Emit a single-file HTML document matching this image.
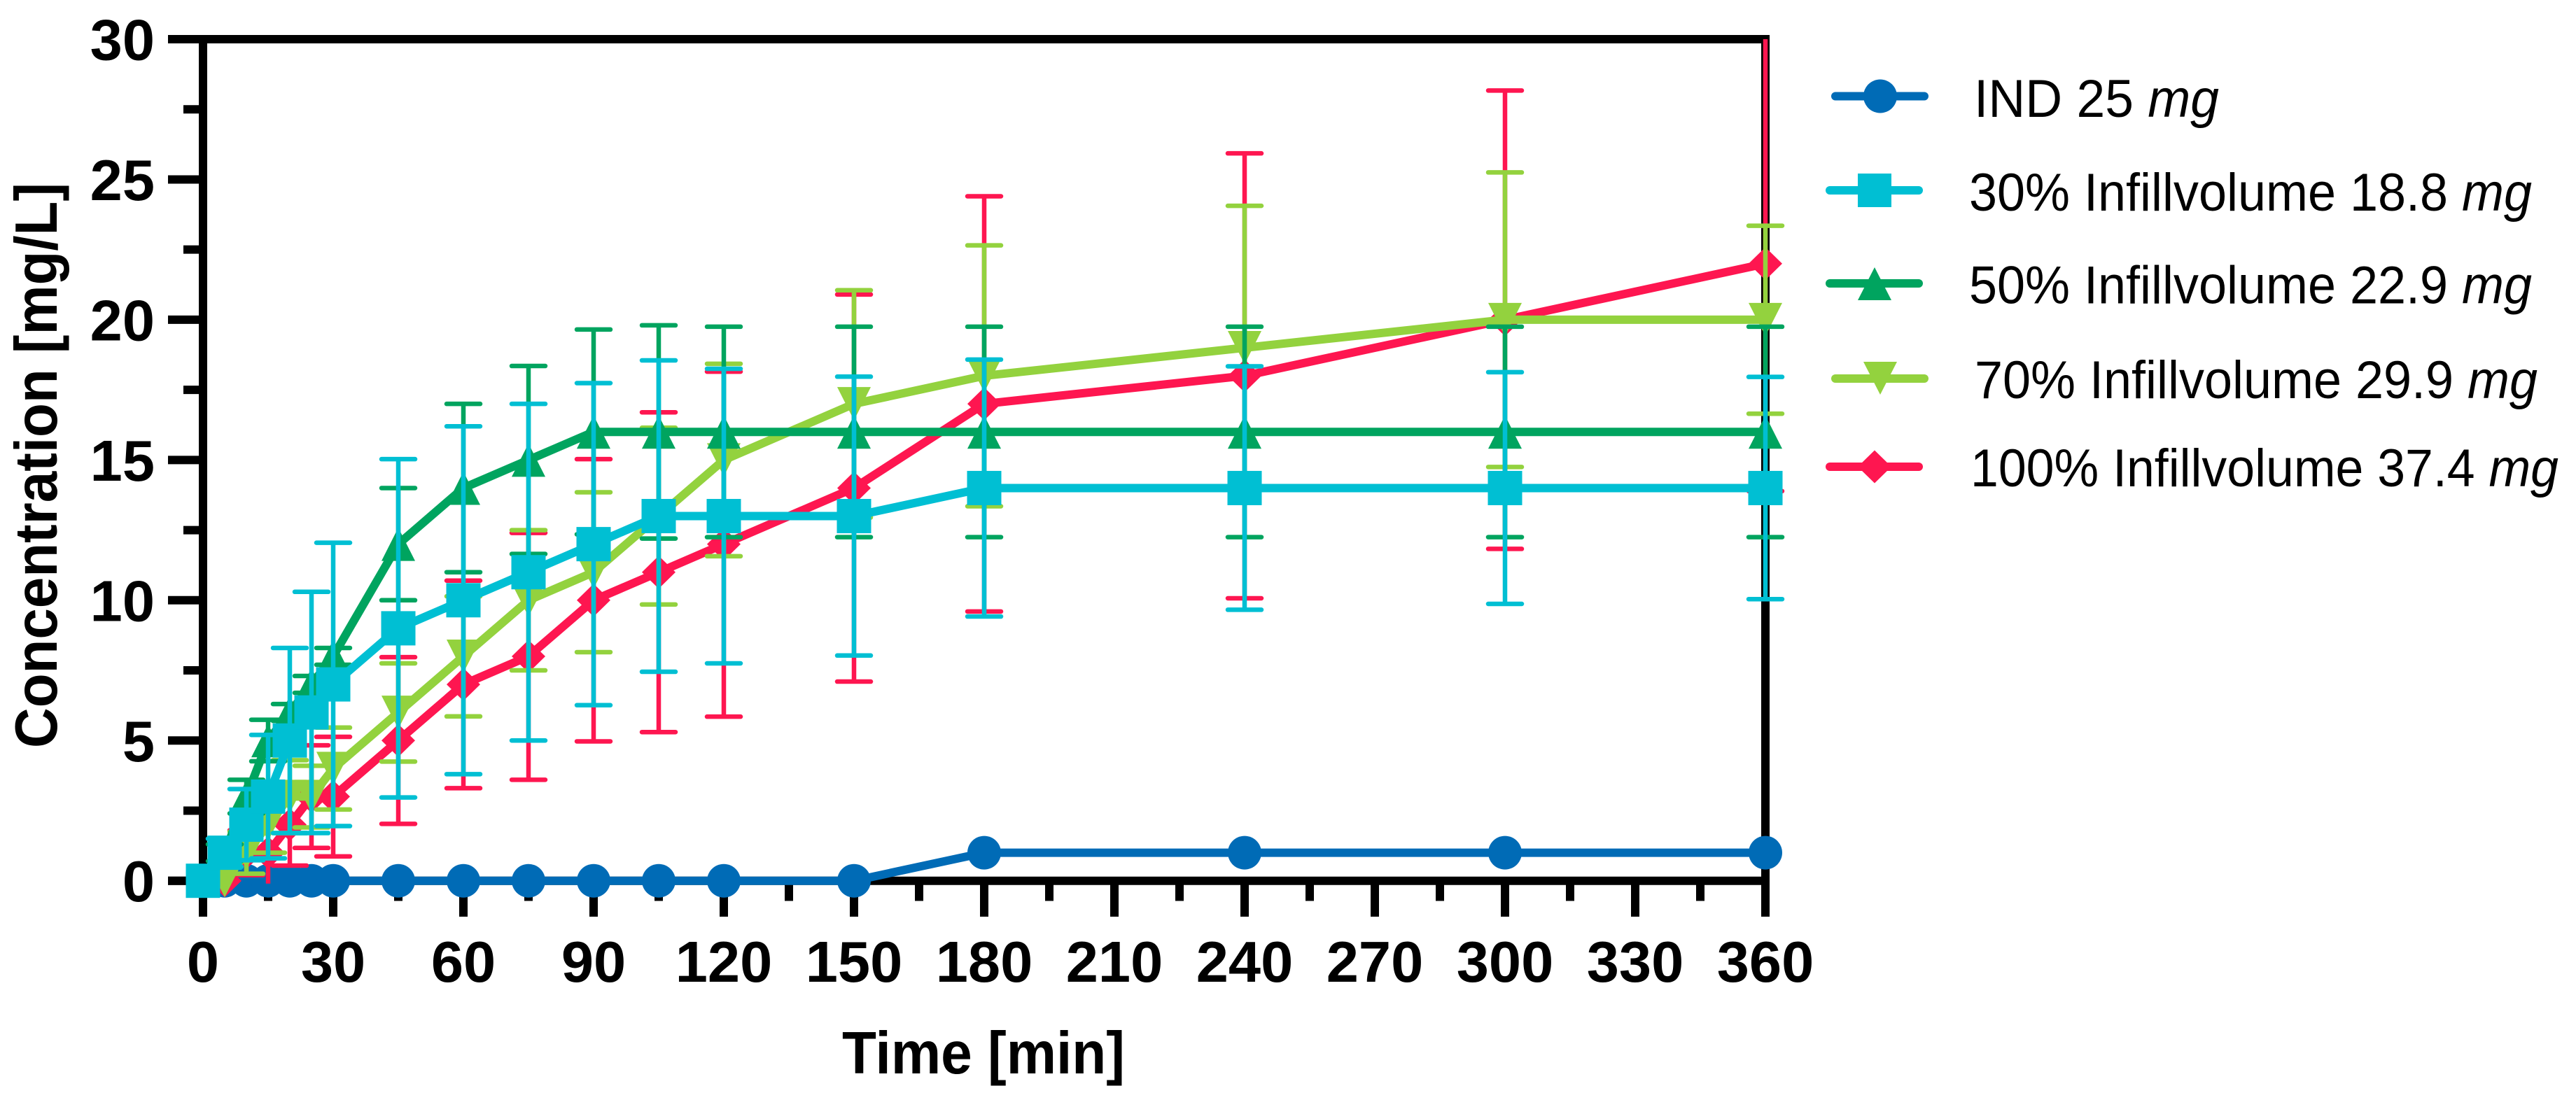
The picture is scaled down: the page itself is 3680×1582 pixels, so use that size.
<!DOCTYPE html>
<html lang="en">
<head>
<meta charset="utf-8">
<title>Concentration over time</title>
<style>
html,body{margin:0;padding:0;background:#fff;width:3680px;height:1582px;overflow:hidden}
svg{display:block}
text{font-family:"Liberation Sans",Arial,sans-serif;fill:#000}
.b{font-weight:700}
</style>
</head>
<body>
<svg id="chart" xmlns="http://www.w3.org/2000/svg" width="3680" height="1582" viewBox="0 0 3680 1582">
<rect x="0" y="0" width="3680" height="1582" fill="#fff"/>
<g id="axes"></g>
<g id="series"></g>
<text class="b" x="1203" y="1534" font-size="85" textLength="404" lengthAdjust="spacingAndGlyphs">Time [min]</text>
<text class="b" transform="translate(81 1069) rotate(-90)" x="0" y="0" font-size="85" textLength="808" lengthAdjust="spacingAndGlyphs">Concentration [mg/L]</text>
<g id="legend">
<g>
<line x1="2622" y1="137.5" x2="2749" y2="137.5" stroke="#006BB6" stroke-width="12" stroke-linecap="round"/>
<circle cx="2686" cy="137.5" r="24" fill="#006BB6"/>
<text x="2820" y="167" font-size="76" textLength="350" lengthAdjust="spacingAndGlyphs">IND 25 <tspan font-style="italic">mg</tspan></text>
</g>
<g>
<line x1="2614" y1="272" x2="2741" y2="272" stroke="#00BFD3" stroke-width="12" stroke-linecap="round"/>
<rect x="2654" y="248" width="48" height="48" fill="#00BFD3"/>
<text x="2813" y="301" font-size="76" textLength="804" lengthAdjust="spacingAndGlyphs">30% Infillvolume 18.8 <tspan font-style="italic">mg</tspan></text>
</g>
<g>
<line x1="2614" y1="405" x2="2741" y2="405" stroke="#00A45F" stroke-width="12" stroke-linecap="round"/>
<polygon points="2678,382 2702,429 2654,429" fill="#00A45F"/>
<text x="2813" y="433.5" font-size="76" textLength="804" lengthAdjust="spacingAndGlyphs">50% Infillvolume 22.9 <tspan font-style="italic">mg</tspan></text>
</g>
<g>
<line x1="2622" y1="541" x2="2749" y2="541" stroke="#93D23E" stroke-width="12" stroke-linecap="round"/>
<polygon points="2662,517 2710,517 2686,564" fill="#93D23E"/>
<text x="2821" y="569" font-size="76" textLength="804" lengthAdjust="spacingAndGlyphs">70% Infillvolume 29.9 <tspan font-style="italic">mg</tspan></text>
</g>
<g>
<line x1="2614" y1="667" x2="2741" y2="667" stroke="#FE1650" stroke-width="12" stroke-linecap="round"/>
<polygon points="2678,643.5 2702,667 2678,690.5 2654,667" fill="#FE1650"/>
<text x="2815" y="695" font-size="76" textLength="840" lengthAdjust="spacingAndGlyphs">100% Infillvolume 37.4 <tspan font-style="italic">mg</tspan></text>
</g>
</g>
</svg>
<script>
const times = [0, 5, 10, 15, 20, 25, 30, 45, 60, 75, 90, 105, 120, 150, 180, 240, 300, 360];
const valuesInd = [0, 0, 0, 0, 0, 0, 0, 0, 0, 0, 0, 0, 0, 0, 1, 1, 1, 1];
const values30 = [0, 1, 2, 3, 5, 6, 7, 9, 10, 11, 12, 13, 13, 13, 14, 14, 14, 14];
const values50 = [0, 1, 3, 5, 6, 7, 8, 12, 14, 15, 16, 16, 16, 16, 16, 16, 16, 16];
const values70 = [0, 0, 1, 2, 3, 3, 4, 6, 8, 10, 11, 13, 15, 17, 18, 19, 20, 20];
const values100 = [0, 0, 1, 1, 2, 3, 3, 5, 7, 8, 10, 11, 12, 14, 17, 18, 20, 22];
const errors30 = [0, 0.5, 1.27, 2.2, 3.3, 4.3, 5.05, 6.03, 6.2, 6, 5.74, 5.55, 5.25, 4.97, 4.58, 4.34, 4.13, 3.96];
const errors50 = [0, 0.3, 0.6, 0.74, 0.3, 0.3, 0.3, 2, 3, 3.35, 3.65, 3.8, 3.75, 3.75, 3.75, 3.75, 3.75, 3.75];
const errors70 = [0, 0, 0.75, 1, 1.3, 1.1, 1.46, 1.75, 2.14, 2.5, 2.85, 3.15, 3.43, 4.05, 4.65, 5.06, 5.25, 3.35];
const errors100 = [0, 0, 0.8, 1.1, 1.46, 1.83, 2.13, 2.97, 3.7, 4.4, 5.03, 5.7, 6.15, 6.9, 7.4, 7.93, 8.17, 8.11];
const xMajorTicks = [0, 30, 60, 90, 120, 150, 180, 210, 240, 270, 300, 330, 360];
const xMinorTicks = [15, 45, 75, 105, 135, 165, 195, 225, 255, 285, 315, 345];
const yMajorTicks = [0, 5, 10, 15, 20, 25, 30];
const yMinorTicks = [2.5, 7.5, 12.5, 17.5, 22.5, 27.5];

const NS = 'http://www.w3.org/2000/svg';
const X_MIN = 0, X_MAX = 360, Y_MIN = 0, Y_MAX = 30;
const LEFT = 290, RIGHT = 2522, BOTTOM = 1258.7, TOP = 56;
function xScale(t) { return LEFT + (t - X_MIN) / (X_MAX - X_MIN) * (RIGHT - LEFT); }
function yScale(v) { return BOTTOM - (v - Y_MIN) / (Y_MAX - Y_MIN) * (BOTTOM - TOP); }

function make(tag, attrs, parent) {
  const el = document.createElementNS(NS, tag);
  for (const k in attrs) el.setAttribute(k, attrs[k]);
  parent.appendChild(el);
  return el;
}
function axisLine(x1, y1, x2, y2, parent, name) {
  const el = make('line', { x1: x1, y1: y1, x2: x2, y2: y2, stroke: '#000', 'stroke-width': 12 }, parent);
  
  
  return el;
}

const axes = document.getElementById('axes');
axisLine(LEFT, 50, LEFT, 1310, axes, 'y-axis-line');
axisLine(RIGHT, 50, RIGHT, 1310, axes, 'right-axis-line');
axisLine(240, BOTTOM, RIGHT + 6, BOTTOM, axes, 'x-axis-line');
axisLine(240, TOP, RIGHT + 6, TOP, axes, 'top-axis-line');

xMajorTicks.forEach(function (t) {
  axisLine(xScale(t), BOTTOM, xScale(t), 1310, axes, 'x-major-tick');
  const label = make('text', { x: xScale(t), y: 1403, 'font-size': 83, 'text-anchor': 'middle', 'font-weight': 700 }, axes);
  
  
  label.textContent = String(t);
});
xMinorTicks.forEach(function (t) {
  axisLine(xScale(t), BOTTOM, xScale(t), 1287.5, axes, 'x-minor-tick');
});
yMajorTicks.forEach(function (v) {
  axisLine(240, yScale(v), LEFT, yScale(v), axes, 'y-major-tick');
  const label = make('text', { x: 221, y: yScale(v) + 29.5, 'font-size': 83, 'text-anchor': 'end', 'font-weight': 700 }, axes);
  
  
  label.textContent = String(v);
});
yMinorTicks.forEach(function (v) {
  axisLine(262, yScale(v), LEFT, yScale(v), axes, 'y-minor-tick');
});

function drawMarker(shape, cx, cy, color, parent) {
  let el;
  if (shape === 'circle') {
    el = make('circle', { cx: cx, cy: cy, r: 24, fill: color }, parent);
  } else if (shape === 'square') {
    el = make('rect', { x: cx - 24.5, y: cy - 24.5, width: 49, height: 49, fill: color }, parent);
  } else if (shape === 'up') {
    el = make('polygon', { points: cx + ',' + (cy - 23.5) + ' ' + (cx + 24) + ',' + (cy + 24) + ' ' + (cx - 24) + ',' + (cy + 24), fill: color }, parent);
  } else if (shape === 'down') {
    el = make('polygon', { points: (cx - 24) + ',' + (cy - 24) + ' ' + (cx + 24) + ',' + (cy - 24) + ' ' + cx + ',' + (cy + 23.5), fill: color }, parent);
  } else {
    el = make('polygon', { points: cx + ',' + (cy - 23.5) + ' ' + (cx + 24) + ',' + cy + ' ' + cx + ',' + (cy + 23.5) + ' ' + (cx - 24) + ',' + cy, fill: color }, parent);
  }
  return el;
}

function drawSeries(key, values, errors, color, shape) {
  const root = document.getElementById('series');
  const group = make('g', {}, root);
  
  

  const pts = values.map(function (v, i) { return xScale(times[i]) + ',' + yScale(v); }).join(' ');
  const line = make('polyline', { points: pts, fill: 'none', stroke: color, 'stroke-width': 12, 'stroke-linejoin': 'round' }, group);
  
  

  if (errors) {
    values.forEach(function (v, i) {
      if (errors[i] <= 0) return;
      const cx = xScale(times[i]);
      const hi = v + errors[i];
      const lo = v - errors[i];
      const stem = make('line', { x1: cx, x2: cx, y1: yScale(Math.min(hi, Y_MAX)), y2: yScale(lo), stroke: color, 'stroke-width': 6.5 }, group);
      
      
      [hi, lo].forEach(function (end) {
        if (end > Y_MAX || end < Y_MIN) return;
        const cap = make('line', { x1: cx - 24, x2: cx + 24, y1: yScale(end), y2: yScale(end), stroke: color, 'stroke-width': 6.5, 'stroke-linecap': 'round' }, group);
        
        
      });
    });
  }

  values.forEach(function (v, i) {
    const m = drawMarker(shape, xScale(times[i]), yScale(v), color, group);
    
    
  });
}

drawSeries('ind', valuesInd, null, '#006BB6', 'circle');
drawSeries('100', values100, errors100, '#FE1650', 'diamond');
drawSeries('70', values70, errors70, '#93D23E', 'down');
drawSeries('50', values50, errors50, '#00A45F', 'up');
drawSeries('30', values30, errors30, '#00BFD3', 'square');
</script>
</body>
</html>
